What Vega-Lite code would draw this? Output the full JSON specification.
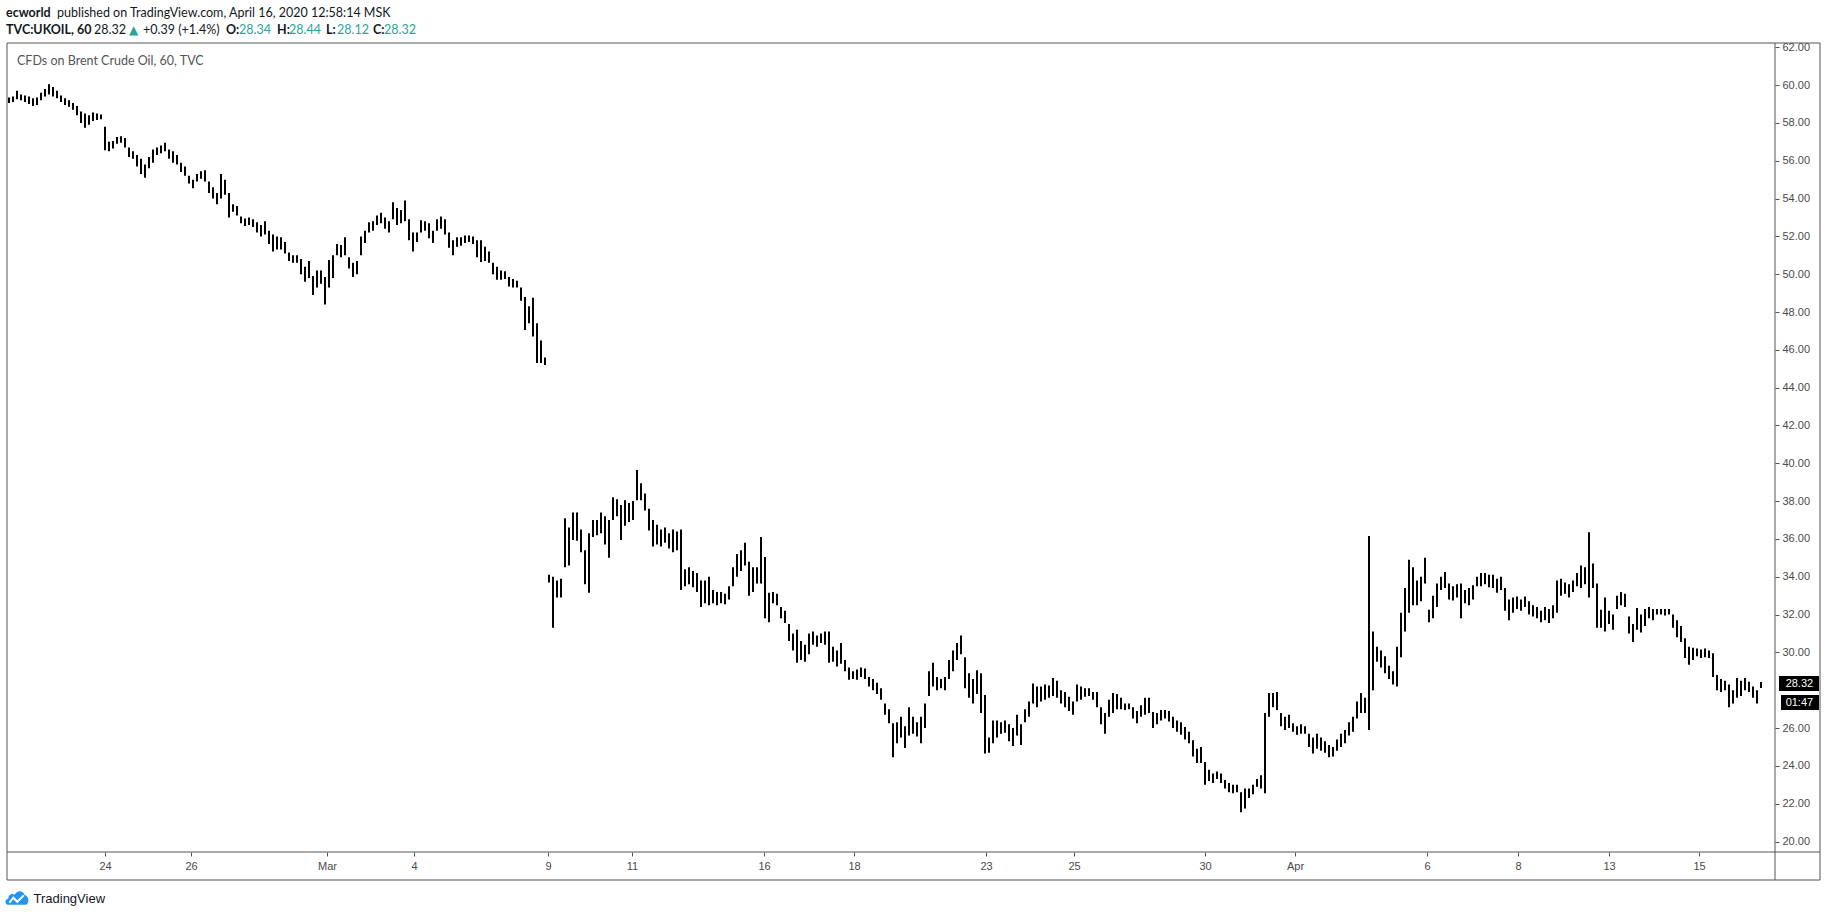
{
  "$schema": "https://vega.github.io/schema/vega-lite/v6.json",
  "width": 1768,
  "height": 809,
  "autosize": {"type": "none"},
  "padding": {"left": 7, "top": 43, "right": 53, "bottom": 64},
  "background": "#ffffff",
  "config": {"view": {"stroke": null}, "font": "Liberation Sans"},
  "data": {"values": [
{"i":0,"l":59.05,"h":59.35},{"i":1,"l":59.1,"h":59.4},{"i":2,"l":59.25,"h":59.7},{"i":3,"l":59.2,"h":59.5},{"i":4,"l":59.1,"h":59.45},{"i":5,"l":59.0,"h":59.4},{"i":6,"l":58.9,"h":59.3},{"i":7,"l":58.95,"h":59.35},{"i":8,"l":59.2,"h":59.6},{"i":9,"l":59.4,"h":59.8},
{"i":10,"l":59.5,"h":60.05},{"i":11,"l":59.4,"h":59.9},{"i":12,"l":59.3,"h":59.7},{"i":13,"l":59.1,"h":59.45},{"i":14,"l":58.95,"h":59.3},{"i":15,"l":58.85,"h":59.2},{"i":16,"l":58.7,"h":59.05},{"i":17,"l":58.4,"h":58.9},{"i":18,"l":58.0,"h":58.6},{"i":19,"l":57.75,"h":58.5},
{"i":20,"l":57.9,"h":58.4},{"i":21,"l":58.1,"h":58.55},{"i":22,"l":58.15,"h":58.5},{"i":23,"l":58.2,"h":58.45},{"i":24,"l":56.55,"h":57.8},{"i":25,"l":56.5,"h":57.0},{"i":26,"l":56.65,"h":57.05},{"i":27,"l":56.9,"h":57.25},{"i":28,"l":56.95,"h":57.3},{"i":29,"l":56.7,"h":57.2},
{"i":30,"l":56.2,"h":56.7},{"i":31,"l":56.1,"h":56.5},{"i":32,"l":55.7,"h":56.3},{"i":33,"l":55.3,"h":56.1},{"i":34,"l":55.1,"h":55.8},{"i":35,"l":55.6,"h":56.2},{"i":36,"l":55.9,"h":56.6},{"i":37,"l":56.3,"h":56.7},{"i":38,"l":56.4,"h":56.8},{"i":39,"l":56.5,"h":56.95},
{"i":40,"l":56.1,"h":56.6},{"i":41,"l":55.9,"h":56.5},{"i":42,"l":55.8,"h":56.3},{"i":43,"l":55.4,"h":55.9},{"i":44,"l":55.2,"h":55.7},{"i":45,"l":54.8,"h":55.2},{"i":46,"l":54.55,"h":55.0},{"i":47,"l":54.9,"h":55.3},{"i":48,"l":55.05,"h":55.45},{"i":49,"l":54.9,"h":55.5},
{"i":50,"l":54.3,"h":54.9},{"i":51,"l":54.0,"h":54.6},{"i":52,"l":53.7,"h":54.3},{"i":53,"l":54.0,"h":55.3},{"i":54,"l":54.2,"h":55.0},{"i":55,"l":53.0,"h":54.3},{"i":56,"l":53.3,"h":53.7},{"i":57,"l":53.1,"h":53.6},{"i":58,"l":52.7,"h":53.05},{"i":59,"l":52.55,"h":52.95},
{"i":60,"l":52.6,"h":53.0},{"i":61,"l":52.5,"h":52.9},{"i":62,"l":52.2,"h":52.75},{"i":63,"l":52.0,"h":52.6},{"i":64,"l":52.1,"h":52.8},{"i":65,"l":51.6,"h":52.3},{"i":66,"l":51.2,"h":52.1},{"i":67,"l":51.3,"h":52.0},{"i":68,"l":51.3,"h":51.95},{"i":69,"l":51.1,"h":51.7},
{"i":70,"l":50.7,"h":51.15},{"i":71,"l":50.6,"h":51.0},{"i":72,"l":50.6,"h":51.0},{"i":73,"l":50.0,"h":50.8},{"i":74,"l":49.6,"h":50.4},{"i":75,"l":49.8,"h":50.7},{"i":76,"l":48.9,"h":49.9},{"i":77,"l":49.3,"h":50.2},{"i":78,"l":49.5,"h":50.2},{"i":79,"l":48.4,"h":49.85},
{"i":80,"l":49.3,"h":50.75},{"i":81,"l":49.8,"h":51.0},{"i":82,"l":51.0,"h":51.6},{"i":83,"l":50.9,"h":51.55},{"i":84,"l":51.0,"h":51.95},{"i":85,"l":50.3,"h":50.9},{"i":86,"l":49.85,"h":50.6},{"i":87,"l":50.0,"h":50.7},{"i":88,"l":51.0,"h":52.0},{"i":89,"l":51.65,"h":52.3},
{"i":90,"l":52.2,"h":52.75},{"i":91,"l":52.3,"h":52.8},{"i":92,"l":52.6,"h":53.1},{"i":93,"l":52.7,"h":53.25},{"i":94,"l":52.4,"h":53.0},{"i":95,"l":52.2,"h":52.8},{"i":96,"l":52.9,"h":53.8},{"i":97,"l":52.6,"h":53.5},{"i":98,"l":52.7,"h":53.4},{"i":99,"l":52.8,"h":53.9},
{"i":100,"l":51.8,"h":52.9},{"i":101,"l":51.2,"h":52.2},{"i":102,"l":51.7,"h":52.2},{"i":103,"l":52.2,"h":52.85},{"i":104,"l":52.3,"h":52.8},{"i":105,"l":51.9,"h":52.7},{"i":106,"l":51.65,"h":52.3},{"i":107,"l":52.3,"h":52.9},{"i":108,"l":52.4,"h":53.05},{"i":109,"l":52.1,"h":52.9},
{"i":110,"l":51.4,"h":52.2},{"i":111,"l":51.0,"h":51.8},{"i":112,"l":51.45,"h":51.95},{"i":113,"l":51.5,"h":51.95},{"i":114,"l":51.65,"h":52.05},{"i":115,"l":51.7,"h":52.05},{"i":116,"l":51.6,"h":52.0},{"i":117,"l":50.9,"h":51.8},{"i":118,"l":50.65,"h":51.8},{"i":119,"l":50.7,"h":51.45},
{"i":120,"l":50.6,"h":51.2},{"i":121,"l":50.0,"h":50.6},{"i":122,"l":49.7,"h":50.4},{"i":123,"l":49.7,"h":50.2},{"i":124,"l":49.75,"h":50.15},{"i":125,"l":49.35,"h":49.85},{"i":126,"l":49.3,"h":49.75},{"i":127,"l":49.3,"h":49.65},{"i":128,"l":48.6,"h":49.3},{"i":129,"l":47.05,"h":48.8},
{"i":130,"l":47.4,"h":48.3},{"i":131,"l":46.7,"h":48.75},{"i":132,"l":45.3,"h":47.4},{"i":133,"l":45.3,"h":46.5},{"i":134,"l":45.2,"h":45.6},{"i":135,"l":33.7,"h":34.1},{"i":136,"l":31.3,"h":34.0},{"i":137,"l":32.9,"h":33.8},{"i":138,"l":32.9,"h":33.9},{"i":139,"l":34.5,"h":37.1},
{"i":140,"l":34.6,"h":36.6},{"i":141,"l":35.95,"h":37.4},{"i":142,"l":35.9,"h":37.4},{"i":143,"l":35.3,"h":36.5},{"i":144,"l":33.6,"h":35.4},{"i":145,"l":33.15,"h":36.3},{"i":146,"l":36.1,"h":37.0},{"i":147,"l":36.2,"h":37.0},{"i":148,"l":36.3,"h":37.4},{"i":149,"l":35.7,"h":37.2},
{"i":150,"l":35.0,"h":37.0},{"i":151,"l":37.0,"h":38.2},{"i":152,"l":37.2,"h":38.1},{"i":153,"l":35.95,"h":37.8},{"i":154,"l":36.7,"h":38.05},{"i":155,"l":36.9,"h":37.9},{"i":156,"l":37.0,"h":38.0},{"i":157,"l":38.05,"h":39.65},{"i":158,"l":38.05,"h":38.95},{"i":159,"l":37.5,"h":38.4},
{"i":160,"l":36.45,"h":37.6},{"i":161,"l":35.6,"h":37.0},{"i":162,"l":35.7,"h":36.75},{"i":163,"l":35.6,"h":36.5},{"i":164,"l":35.8,"h":36.6},{"i":165,"l":35.5,"h":36.3},{"i":166,"l":35.3,"h":36.5},{"i":167,"l":35.4,"h":36.4},{"i":168,"l":33.3,"h":36.5},{"i":169,"l":33.5,"h":34.4},
{"i":170,"l":33.6,"h":34.5},{"i":171,"l":33.45,"h":34.3},{"i":172,"l":33.2,"h":34.2},{"i":173,"l":32.4,"h":33.8},{"i":174,"l":32.6,"h":33.8},{"i":175,"l":32.5,"h":34.0},{"i":176,"l":32.6,"h":33.3},{"i":177,"l":32.5,"h":33.2},{"i":178,"l":32.6,"h":33.2},{"i":179,"l":32.55,"h":33.1},
{"i":180,"l":32.8,"h":33.5},{"i":181,"l":33.5,"h":34.5},{"i":182,"l":34.0,"h":35.2},{"i":183,"l":34.3,"h":35.4},{"i":184,"l":34.6,"h":35.8},{"i":185,"l":33.0,"h":34.8},{"i":186,"l":33.2,"h":34.5},{"i":187,"l":33.65,"h":34.5},{"i":188,"l":33.65,"h":36.1},{"i":189,"l":31.8,"h":35.05},
{"i":190,"l":31.6,"h":33.15},{"i":191,"l":32.6,"h":33.2},{"i":192,"l":32.5,"h":33.1},{"i":193,"l":31.8,"h":32.4},{"i":194,"l":31.55,"h":32.2},{"i":195,"l":30.6,"h":31.5},{"i":196,"l":30.1,"h":31.0},{"i":197,"l":29.45,"h":31.2},{"i":198,"l":29.6,"h":30.6},{"i":199,"l":29.5,"h":30.4},
{"i":200,"l":29.9,"h":31.0},{"i":201,"l":30.4,"h":31.1},{"i":202,"l":30.3,"h":30.9},{"i":203,"l":30.5,"h":31.0},{"i":204,"l":30.4,"h":31.1},{"i":205,"l":29.45,"h":31.1},{"i":206,"l":29.5,"h":30.3},{"i":207,"l":29.25,"h":30.1},{"i":208,"l":29.4,"h":30.5},{"i":209,"l":29.0,"h":29.6},
{"i":210,"l":28.55,"h":29.2},{"i":211,"l":28.6,"h":29.0},{"i":212,"l":28.55,"h":29.1},{"i":213,"l":28.7,"h":29.2},{"i":214,"l":28.6,"h":29.15},{"i":215,"l":28.2,"h":28.7},{"i":216,"l":28.0,"h":28.6},{"i":217,"l":27.8,"h":28.4},{"i":218,"l":27.5,"h":28.1},{"i":219,"l":26.7,"h":27.3},
{"i":220,"l":26.25,"h":27.0},{"i":221,"l":24.45,"h":26.25},{"i":222,"l":25.2,"h":26.3},{"i":223,"l":25.5,"h":26.6},{"i":224,"l":24.95,"h":26.1},{"i":225,"l":25.6,"h":27.1},{"i":226,"l":25.7,"h":26.6},{"i":227,"l":25.55,"h":26.3},{"i":228,"l":25.2,"h":26.6},{"i":229,"l":26.0,"h":27.3},
{"i":230,"l":27.7,"h":29.0},{"i":231,"l":28.2,"h":29.45},{"i":232,"l":28.0,"h":28.7},{"i":233,"l":28.1,"h":28.6},{"i":234,"l":28.0,"h":28.7},{"i":235,"l":28.6,"h":29.6},{"i":236,"l":29.0,"h":30.1},{"i":237,"l":29.6,"h":30.5},{"i":238,"l":29.9,"h":30.9},{"i":239,"l":28.1,"h":29.75},
{"i":240,"l":27.6,"h":28.9},{"i":241,"l":27.3,"h":28.6},{"i":242,"l":27.8,"h":29.05},{"i":243,"l":26.8,"h":28.9},{"i":244,"l":24.65,"h":27.75},{"i":245,"l":24.7,"h":25.5},{"i":246,"l":25.2,"h":26.4},{"i":247,"l":25.5,"h":26.4},{"i":248,"l":25.7,"h":26.3},{"i":249,"l":25.75,"h":26.4},
{"i":250,"l":25.3,"h":26.2},{"i":251,"l":25.05,"h":26.0},{"i":252,"l":25.6,"h":26.7},{"i":253,"l":25.1,"h":26.2},{"i":254,"l":26.3,"h":27.0},{"i":255,"l":26.6,"h":27.4},{"i":256,"l":27.3,"h":28.35},{"i":257,"l":27.1,"h":28.2},{"i":258,"l":27.4,"h":28.2},{"i":259,"l":27.5,"h":28.3},
{"i":260,"l":27.6,"h":28.25},{"i":261,"l":27.7,"h":28.65},{"i":262,"l":27.6,"h":28.5},{"i":263,"l":27.3,"h":28.0},{"i":264,"l":27.1,"h":27.9},{"i":265,"l":26.9,"h":27.65},{"i":266,"l":26.7,"h":27.4},{"i":267,"l":27.4,"h":28.3},{"i":268,"l":27.5,"h":28.2},{"i":269,"l":27.65,"h":28.1},
{"i":270,"l":27.7,"h":28.1},{"i":271,"l":27.5,"h":27.9},{"i":272,"l":27.1,"h":27.9},{"i":273,"l":26.2,"h":27.1},{"i":274,"l":25.7,"h":26.8},{"i":275,"l":26.6,"h":27.5},{"i":276,"l":26.8,"h":27.85},{"i":277,"l":27.0,"h":27.8},{"i":278,"l":27.0,"h":27.6},{"i":279,"l":26.95,"h":27.3},
{"i":280,"l":27.0,"h":27.3},{"i":281,"l":26.5,"h":27.1},{"i":282,"l":26.25,"h":26.9},{"i":283,"l":26.6,"h":27.2},{"i":284,"l":26.7,"h":27.6},{"i":285,"l":26.8,"h":27.6},{"i":286,"l":26.0,"h":26.85},{"i":287,"l":26.2,"h":26.8},{"i":288,"l":26.4,"h":26.95},{"i":289,"l":26.5,"h":26.95},
{"i":290,"l":26.35,"h":26.9},{"i":291,"l":26.0,"h":26.6},{"i":292,"l":25.8,"h":26.4},{"i":293,"l":25.65,"h":26.3},{"i":294,"l":25.4,"h":26.05},{"i":295,"l":25.2,"h":25.8},{"i":296,"l":24.5,"h":25.35},{"i":297,"l":24.15,"h":24.9},{"i":298,"l":24.15,"h":25.0},{"i":299,"l":23.0,"h":24.2},
{"i":300,"l":23.2,"h":23.8},{"i":301,"l":23.1,"h":23.6},{"i":302,"l":23.3,"h":23.7},{"i":303,"l":23.1,"h":23.6},{"i":304,"l":22.8,"h":23.25},{"i":305,"l":22.6,"h":23.1},{"i":306,"l":22.55,"h":23.0},{"i":307,"l":22.6,"h":23.0},{"i":308,"l":21.55,"h":22.6},{"i":309,"l":21.75,"h":22.8},
{"i":310,"l":22.3,"h":22.8},{"i":311,"l":22.5,"h":23.0},{"i":312,"l":22.9,"h":23.3},{"i":313,"l":22.8,"h":23.5},{"i":314,"l":22.55,"h":26.8},{"i":315,"l":26.6,"h":27.85},{"i":316,"l":27.1,"h":27.85},{"i":317,"l":26.95,"h":27.9},{"i":318,"l":26.1,"h":26.8},{"i":319,"l":25.9,"h":26.6},
{"i":320,"l":26.0,"h":26.7},{"i":321,"l":25.8,"h":26.25},{"i":322,"l":25.65,"h":26.1},{"i":323,"l":25.7,"h":26.2},{"i":324,"l":25.7,"h":26.1},{"i":325,"l":25.0,"h":25.7},{"i":326,"l":24.65,"h":25.5},{"i":327,"l":24.9,"h":25.7},{"i":328,"l":24.8,"h":25.5},{"i":329,"l":24.7,"h":25.3},
{"i":330,"l":24.45,"h":25.1},{"i":331,"l":24.5,"h":25.0},{"i":332,"l":24.8,"h":25.4},{"i":333,"l":25.0,"h":25.7},{"i":334,"l":25.2,"h":25.9},{"i":335,"l":25.6,"h":26.3},{"i":336,"l":25.8,"h":26.6},{"i":337,"l":26.5,"h":27.4},{"i":338,"l":26.8,"h":27.85},{"i":339,"l":26.8,"h":27.6},
{"i":340,"l":25.9,"h":36.15},{"i":341,"l":28.0,"h":31.1},{"i":342,"l":29.5,"h":30.3},{"i":343,"l":29.2,"h":30.1},{"i":344,"l":28.9,"h":29.8},{"i":345,"l":28.6,"h":29.3},{"i":346,"l":28.3,"h":29.0},{"i":347,"l":28.2,"h":30.3},{"i":348,"l":29.75,"h":32.1},{"i":349,"l":31.1,"h":33.4},
{"i":350,"l":32.1,"h":34.9},{"i":351,"l":32.5,"h":34.5},{"i":352,"l":32.5,"h":33.8},{"i":353,"l":32.7,"h":34.0},{"i":354,"l":33.65,"h":35.0},{"i":355,"l":31.6,"h":32.25},{"i":356,"l":31.8,"h":33.0},{"i":357,"l":32.4,"h":33.65},{"i":358,"l":33.3,"h":34.0},{"i":359,"l":33.4,"h":34.25},
{"i":360,"l":32.8,"h":33.65},{"i":361,"l":32.75,"h":33.5},{"i":362,"l":32.9,"h":33.6},{"i":363,"l":31.8,"h":33.65},{"i":364,"l":32.6,"h":33.3},{"i":365,"l":32.5,"h":33.4},{"i":366,"l":32.8,"h":33.55},{"i":367,"l":33.5,"h":34.0},{"i":368,"l":33.5,"h":34.2},{"i":369,"l":33.6,"h":34.2},
{"i":370,"l":33.45,"h":34.1},{"i":371,"l":33.4,"h":34.1},{"i":372,"l":33.15,"h":33.9},{"i":373,"l":33.3,"h":34.0},{"i":374,"l":32.2,"h":33.4},{"i":375,"l":31.7,"h":32.8},{"i":376,"l":32.1,"h":32.9},{"i":377,"l":32.3,"h":32.95},{"i":378,"l":32.2,"h":32.8},{"i":379,"l":32.4,"h":32.95},
{"i":380,"l":32.0,"h":32.7},{"i":381,"l":31.9,"h":32.5},{"i":382,"l":31.8,"h":32.4},{"i":383,"l":31.6,"h":32.2},{"i":384,"l":31.7,"h":32.4},{"i":385,"l":31.55,"h":32.3},{"i":386,"l":31.8,"h":32.5},{"i":387,"l":32.1,"h":33.8},{"i":388,"l":33.0,"h":33.9},{"i":389,"l":33.1,"h":33.7},
{"i":390,"l":32.9,"h":33.6},{"i":391,"l":33.2,"h":33.8},{"i":392,"l":33.5,"h":34.2},{"i":393,"l":33.4,"h":34.6},{"i":394,"l":33.6,"h":34.5},{"i":395,"l":32.9,"h":36.35},{"i":396,"l":33.4,"h":34.7},{"i":397,"l":31.3,"h":33.65},{"i":398,"l":31.3,"h":32.25},{"i":399,"l":31.1,"h":32.9},
{"i":400,"l":31.5,"h":32.2},{"i":401,"l":31.2,"h":32.0},{"i":402,"l":32.3,"h":33.0},{"i":403,"l":32.5,"h":33.2},{"i":404,"l":32.4,"h":33.1},{"i":405,"l":31.0,"h":31.9},{"i":406,"l":30.55,"h":31.5},{"i":407,"l":31.2,"h":32.35},{"i":408,"l":31.05,"h":32.0},{"i":409,"l":31.4,"h":32.3},
{"i":410,"l":31.8,"h":32.4},{"i":411,"l":31.7,"h":32.3},{"i":412,"l":32.0,"h":32.3},{"i":413,"l":32.0,"h":32.3},{"i":414,"l":31.95,"h":32.3},{"i":415,"l":32.0,"h":32.3},{"i":416,"l":31.3,"h":32.0},{"i":417,"l":30.8,"h":31.7},{"i":418,"l":30.55,"h":31.4},{"i":419,"l":29.7,"h":30.75},
{"i":420,"l":29.35,"h":30.3},{"i":421,"l":29.6,"h":30.25},{"i":422,"l":29.8,"h":30.2},{"i":423,"l":29.7,"h":30.15},{"i":424,"l":29.75,"h":30.2},{"i":425,"l":29.7,"h":30.1},{"i":426,"l":28.7,"h":29.95},{"i":427,"l":28.0,"h":28.8},{"i":428,"l":27.9,"h":28.6},{"i":429,"l":28.0,"h":28.5},
{"i":430,"l":27.1,"h":28.3},{"i":431,"l":27.3,"h":28.0},{"i":432,"l":27.6,"h":28.65},{"i":433,"l":27.7,"h":28.5},{"i":434,"l":28.0,"h":28.65},{"i":435,"l":27.9,"h":28.45},{"i":436,"l":27.6,"h":28.2},{"i":437,"l":27.3,"h":28.0},{"i":438,"l":28.12,"h":28.44}
  ]},
  "layer": [
    {
      "mark": {"type": "rule", "strokeWidth": 2, "color": "#000000"},
      "encoding": {
        "x": {
          "field": "i", "type": "quantitative",
          "scale": {"domain": [-0.5, 441.5], "nice": false, "zero": false},
          "axis": {
            "orient": "bottom",
            "title": "TradingView",
            "titleAnchor": "start",
            "titleAlign": "left",
            "titleBaseline": "middle",
            "titleX": 26,
            "titleY": 46,
            "titleFont": "Liberation Sans",
            "titleFontSize": 13,
            "titleFontWeight": "normal",
            "titleColor": "#131722",
            "values": [24, 45.5, 79.5, 101.25, 134.75, 155.75, 188.75, 211.25, 244.25, 266.25, 299, 321.5, 354.5, 377.25, 400, 422.5],
            "labelExpr": "['24','26','Mar','4','9','11','16','18','23','25','30','Apr','6','8','13','15'][indexof([24, 45.5, 79.5, 101.25, 134.75, 155.75, 188.75, 211.25, 244.25, 266.25, 299, 321.5, 354.5, 377.25, 400, 422.5], datum.value)]",
            "domain": false,
            "grid": false,
            "ticks": true,
            "tickSize": 4,
            "tickColor": "#555555",
            "labelColor": "#4a4a4a",
            "labelFont": "Liberation Sans",
            "labelFontSize": 11,
            "labelPadding": 4,
            "labelOverlap": false,
            "labelFlush": false
          }
        },
        "y": {
          "field": "l", "type": "quantitative",
          "scale": {"domain": [19.445, 62.226], "nice": false, "zero": false},
          "axis": {
            "orient": "right",
            "title": null,
            "values": [20, 22, 24, 26, 30, 32, 34, 36, 38, 40, 42, 44, 46, 48, 50, 52, 54, 56, 58, 60, 62],
            "format": ".2f",
            "domain": false,
            "grid": false,
            "tickSize": 4,
            "tickColor": "#555555",
            "labelColor": "#4a4a4a",
            "labelFont": "Liberation Sans",
            "labelFontSize": 11,
            "labelPadding": 3,
            "labelAlign": "left",
            "labelOverlap": false,
            "labelFlush": false
          }
        },
        "y2": {"field": "h"}
      }
    },
    {
      "data": {"values": [{}]},
      "mark": {"type": "rect", "filled": false, "stroke": "#555555", "strokeWidth": 1},
      "encoding": {"x": {"datum": -0.5}, "x2": {"datum": 452.75}, "y": {"datum": 62.226}, "y2": {"datum": 17.964}}
    },
    {
      "data": {"values": [{}]},
      "mark": {"type": "rule", "stroke": "#555555", "strokeWidth": 1},
      "encoding": {"x": {"datum": -0.5}, "x2": {"datum": 452.75}, "y": {"datum": 19.445}}
    },
    {
      "data": {"values": [{}]},
      "mark": {"type": "rule", "stroke": "#555555", "strokeWidth": 1},
      "encoding": {"x": {"datum": 441.5}, "y": {"datum": 62.226}, "y2": {"datum": 17.964}}
    },
    {
      "data": {"values": [{"label": "CFDs on Brent Crude Oil, 60, TVC"}]},
      "mark": {"type": "text", "align": "left", "baseline": "middle", "font": "Lato", "fontSize": 12.5, "color": "#555555"},
      "encoding": {"x": {"datum": 2}, "y": {"datum": 61.29}, "text": {"field": "label"}}
    },
    {
      "data": {"values": [{"label": "ecworld"}]},
      "mark": {"type": "text", "align": "left", "baseline": "middle", "font": "Lato", "fontSize": 12.5, "fontWeight": "bold", "color": "#131722"},
      "encoding": {"x": {"datum": -0.75}, "y": {"datum": 63.83}, "text": {"field": "label"}}
    },
    {
      "data": {"values": [{"label": "published on TradingView.com, April 16, 2020 12:58:14 MSK"}]},
      "mark": {"type": "text", "align": "left", "baseline": "middle", "font": "Lato", "fontSize": 12.5, "color": "#131722"},
      "encoding": {"x": {"datum": 12}, "y": {"datum": 63.83}, "text": {"field": "label"}}
    },
    {
      "data": {"values": [{"label": "TVC:UKOIL, 60"}]},
      "mark": {"type": "text", "align": "left", "baseline": "middle", "font": "Lato", "fontSize": 12.5, "fontWeight": "bold", "color": "#131722"},
      "encoding": {"x": {"datum": -0.75}, "y": {"datum": 62.91}, "text": {"field": "label"}}
    },
    {
      "data": {"values": [{"label": "28.32"}]},
      "mark": {"type": "text", "align": "left", "baseline": "middle", "font": "Lato", "fontSize": 12.5, "color": "#131722"},
      "encoding": {"x": {"datum": 21.25}, "y": {"datum": 62.91}, "text": {"field": "label"}}
    },
    {
      "data": {"values": [{"label": "▲"}]},
      "mark": {"type": "text", "align": "left", "baseline": "middle", "font": "DejaVu Sans", "fontSize": 12, "color": "#26a69a"},
      "encoding": {"x": {"datum": 30}, "y": {"datum": 62.91}, "text": {"field": "label"}}
    },
    {
      "data": {"values": [{"label": "+0.39 (+1.4%)"}]},
      "mark": {"type": "text", "align": "left", "baseline": "middle", "font": "Lato", "fontSize": 12.5, "color": "#131722"},
      "encoding": {"x": {"datum": 33.5}, "y": {"datum": 62.91}, "text": {"field": "label"}}
    },
    {
      "data": {"values": [{"label": "O:"}]},
      "mark": {"type": "text", "align": "left", "baseline": "middle", "font": "Lato", "fontSize": 12.5, "fontWeight": "bold", "color": "#131722"},
      "encoding": {"x": {"datum": 54.25}, "y": {"datum": 62.91}, "text": {"field": "label"}}
    },
    {
      "data": {"values": [{"label": "28.34"}]},
      "mark": {"type": "text", "align": "left", "baseline": "middle", "font": "Lato", "fontSize": 12.5, "color": "#26a69a"},
      "encoding": {"x": {"datum": 57.5}, "y": {"datum": 62.91}, "text": {"field": "label"}}
    },
    {
      "data": {"values": [{"label": "H:"}]},
      "mark": {"type": "text", "align": "left", "baseline": "middle", "font": "Lato", "fontSize": 12.5, "fontWeight": "bold", "color": "#131722"},
      "encoding": {"x": {"datum": 67}, "y": {"datum": 62.91}, "text": {"field": "label"}}
    },
    {
      "data": {"values": [{"label": "28.44"}]},
      "mark": {"type": "text", "align": "left", "baseline": "middle", "font": "Lato", "fontSize": 12.5, "color": "#26a69a"},
      "encoding": {"x": {"datum": 70}, "y": {"datum": 62.91}, "text": {"field": "label"}}
    },
    {
      "data": {"values": [{"label": "L:"}]},
      "mark": {"type": "text", "align": "left", "baseline": "middle", "font": "Lato", "fontSize": 12.5, "fontWeight": "bold", "color": "#131722"},
      "encoding": {"x": {"datum": 79.25}, "y": {"datum": 62.91}, "text": {"field": "label"}}
    },
    {
      "data": {"values": [{"label": "28.12"}]},
      "mark": {"type": "text", "align": "left", "baseline": "middle", "font": "Lato", "fontSize": 12.5, "color": "#26a69a"},
      "encoding": {"x": {"datum": 82}, "y": {"datum": 62.91}, "text": {"field": "label"}}
    },
    {
      "data": {"values": [{"label": "C:"}]},
      "mark": {"type": "text", "align": "left", "baseline": "middle", "font": "Lato", "fontSize": 12.5, "fontWeight": "bold", "color": "#131722"},
      "encoding": {"x": {"datum": 91}, "y": {"datum": 62.91}, "text": {"field": "label"}}
    },
    {
      "data": {"values": [{"label": "28.32"}]},
      "mark": {"type": "text", "align": "left", "baseline": "middle", "font": "Lato", "fontSize": 12.5, "color": "#26a69a"},
      "encoding": {"x": {"datum": 93.75}, "y": {"datum": 62.91}, "text": {"field": "label"}}
    },
    {
      "data": {"values": [{}]},
      "mark": {"type": "rect", "color": "#000000"},
      "encoding": {"x": {"datum": 442.5}, "x2": {"datum": 452.5}, "y": {"datum": 28.75}, "y2": {"datum": 27.96}}
    },
    {
      "data": {"values": [{}]},
      "mark": {"type": "rect", "color": "#000000"},
      "encoding": {"x": {"datum": 443}, "x2": {"datum": 452.5}, "y": {"datum": 27.75}, "y2": {"datum": 26.955}}
    },
    {
      "data": {"values": [{"label": "28.32", "p": 28.32}, {"label": "01:47", "p": 27.35}]},
      "mark": {"type": "text", "align": "center", "baseline": "middle", "font": "Liberation Sans", "fontSize": 11, "color": "#ffffff"},
      "encoding": {"x": {"datum": 447.6}, "y": {"field": "p", "type": "quantitative"}, "text": {"field": "label"}}
    },
    {
      "data": {"values": [{}]},
      "mark": {"type": "point", "shape": "M-0.7,0.55 C-1,0.55 -1.05,0.1 -0.72,0.05 C-0.72,-0.3 -0.4,-0.42 -0.18,-0.28 C-0.02,-0.65 0.5,-0.68 0.62,-0.25 C1,-0.2 1.05,0.55 0.68,0.55 Z", "filled": true, "color": "#2196f3", "opacity": 1, "size": 600},
      "encoding": {"x": {"datum": 2}, "y": {"datum": 17.01}}
    },
    {
      "data": {"values": [{}]},
      "mark": {"type": "point", "shape": "M-0.62,0.38 L-0.3,-0.02 L0.02,0.3 L0.55,-0.22", "filled": false, "stroke": "#ffffff", "strokeWidth": 2, "opacity": 1, "size": 600},
      "encoding": {"x": {"datum": 2}, "y": {"datum": 17.01}}
    }
  ]
}
